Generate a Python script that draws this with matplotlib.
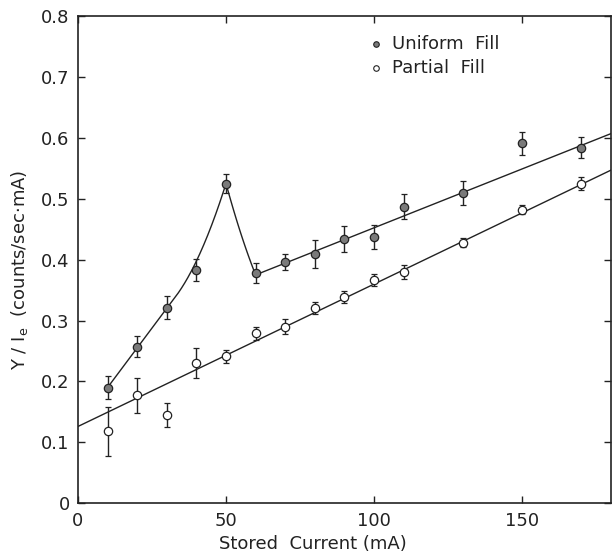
import numpy as np
import matplotlib.pyplot as plt
from matplotlib.ticker import FixedLocator, FixedFormatter

# stored current values (mA) where the yield was measured
current = np.array([10, 20, 30, 40, 50, 60, 70, 80, 90, 100, 110, 130, 150, 170])

# yield per unit current, uniform fill (filled circles)
uniform = np.array([0.190, 0.257, 0.321, 0.383, 0.525, 0.378, 0.396, 0.410,
                    0.434, 0.437, 0.487, 0.510, 0.591, 0.584])
uniform_err = np.array([0.019, 0.017, 0.019, 0.018, 0.016, 0.016, 0.013, 0.023,
                        0.022, 0.020, 0.021, 0.020, 0.019, 0.017])

# yield per unit current, partial fill (open circles)
partial = np.array([0.118, 0.177, 0.145, 0.230, 0.241, 0.279, 0.290, 0.320,
                    0.338, 0.366, 0.380, 0.428, 0.482, 0.525])
partial_err = np.array([0.040, 0.029, 0.020, 0.025, 0.010, 0.011, 0.012, 0.010,
                        0.010, 0.010, 0.011, 0.007, 0.007, 0.011])

# hand drawn guide curves
# rising branch: straight from (10, 0.19) with slope 0.0065, bending up after 33 mA to the peak
rise_start, rise_slope, bend_at = (10, 0.190), 0.0065, 33
peak = (50, 0.525)
fall_x = [50, 55, 60]
fall_y = [0.525, 0.443, 0.375]
upper_line_x = [60, 180]
upper_line_y = [0.375, 0.607]
lower_line_x = [0, 180]
lower_line_y = [0.126, 0.547]

ink = '#222222'
plt.rcParams['font.family'] = ['DejaVu Sans']

fig = plt.figure(figsize=(6.14, 5.56), dpi=100)
ax = fig.add_axes([0.127, 0.095, 0.868, 0.876])

# the curves first, so the markers sit on top of them
xs = np.linspace(rise_start[0], peak[0], 150)
lin = rise_start[1] + rise_slope * (xs - rise_start[0])
bend = (peak[1] - lin[-1]) / (peak[0] - bend_at) ** 2
ys = lin + bend * np.clip(xs - bend_at, 0, None) ** 2
ax.plot(xs, ys, color=ink, lw=1.0)
xs = np.linspace(50, 60, 40)
coef = np.polyfit(fall_x, fall_y, 2)
ax.plot(xs, np.polyval(coef, xs), color=ink, lw=1.0)
ax.plot(upper_line_x, upper_line_y, color=ink, lw=1.0)
ax.plot(lower_line_x, lower_line_y, color=ink, lw=1.0)

# data points with error bars
ax.errorbar(current, uniform, yerr=uniform_err, fmt='o', ms=6, mfc='#7a7a7a',
            mec=ink, mew=0.9, ecolor=ink, elinewidth=1.0, capsize=2.5, capthick=1.0)
ax.errorbar(current, partial, yerr=partial_err, fmt='o', ms=6, mfc='white',
            mec=ink, mew=0.9, ecolor=ink, elinewidth=1.0, capsize=2.5, capthick=1.0)

# legend drawn by hand
ax.plot([100.5], [0.754], 'o', ms=4, mfc='#7a7a7a', mec=ink, mew=0.8)
ax.plot([100.5], [0.715], 'o', ms=4, mfc='white', mec=ink, mew=0.8)
ax.text(106, 0.754, 'Uniform  Fill', fontsize=13, color=ink, va='center')
ax.text(106, 0.715, 'Partial  Fill', fontsize=13, color=ink, va='center')

ax.set_xlim(0, 180)
ax.set_ylim(0, 0.8)
ax.xaxis.set_major_locator(FixedLocator([0, 50, 100, 150]))
ax.xaxis.set_major_formatter(FixedFormatter(['0', '50', '100', '150']))
yt = [0, 0.1, 0.2, 0.3, 0.4, 0.5, 0.6, 0.7, 0.8]
ax.yaxis.set_major_locator(FixedLocator(yt))
ax.yaxis.set_major_formatter(FixedFormatter(['0', '0.1', '0.2', '0.3', '0.4',
                                             '0.5', '0.6', '0.7', '0.8']))
ax.tick_params(direction='in', length=5, width=1.0, colors=ink, labelsize=13,
               top=True, right=True, pad=6)
for s in ax.spines.values():
    s.set_color(ink)
    s.set_linewidth(1.2)

ax.set_xlabel('Stored  Current (mA)', fontsize=13, color=ink)
ax.xaxis.set_label_coords(0.44, -0.065)
ax.set_ylabel(r'Y / $\mathrm{I_e}$  (counts/sec$\cdot$mA)', fontsize=13, color=ink)
ax.yaxis.set_label_coords(-0.09, 0.48)

fig.savefig('out.png', dpi=100)
